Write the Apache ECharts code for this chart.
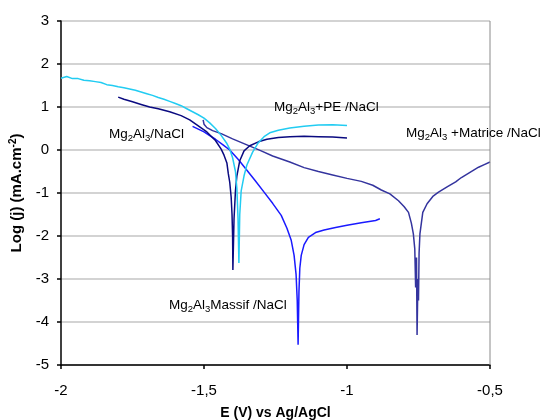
<!DOCTYPE html>
<html>
<head>
<meta charset="utf-8">
<script src="https://cdn.jsdelivr.net/npm/echarts@6/dist/echarts.min.js"></script>
<style>
  html, body { margin: 0; padding: 0; background: #fff; }
  #chart { width: 544px; height: 420px; }
</style>
</head>
<body>
<div id="chart"></div>
<script>
// Polarisation curves: [E (V), log j]
const curvePE = [
  [-2.0, 1.67], [-1.98, 1.71], [-1.96, 1.66], [-1.94, 1.66], [-1.92, 1.62], [-1.9, 1.61],
  [-1.88, 1.59], [-1.86, 1.57], [-1.84, 1.52], [-1.82, 1.50], [-1.8, 1.47], [-1.78, 1.45],
  [-1.76, 1.42], [-1.74, 1.39], [-1.72, 1.35], [-1.7, 1.31], [-1.68, 1.27], [-1.66, 1.22],
  [-1.64, 1.18], [-1.62, 1.13], [-1.6, 1.08], [-1.58, 1.03], [-1.56, 0.96], [-1.54, 0.89],
  [-1.52, 0.82], [-1.5, 0.74], [-1.48, 0.63], [-1.46, 0.50], [-1.44, 0.34], [-1.42, 0.15],
  [-1.41, 0.02], [-1.4, -0.18], [-1.39, -0.5], [-1.385, -0.9], [-1.381, -1.6], [-1.378, -2.63],
  [-1.375, -1.5], [-1.37, -0.95], [-1.36, -0.6], [-1.35, -0.35], [-1.33, -0.05], [-1.31, 0.17],
  [-1.29, 0.31], [-1.27, 0.40], [-1.24, 0.46], [-1.2, 0.51], [-1.15, 0.55], [-1.1, 0.58],
  [-1.05, 0.59], [-1.0, 0.57]
];
const curveNaCl = [
  [-1.8, 1.23], [-1.78, 1.18], [-1.75, 1.12], [-1.72, 1.06], [-1.69, 1.0], [-1.66, 0.96],
  [-1.62, 0.89], [-1.58, 0.80], [-1.55, 0.70], [-1.52, 0.56], [-1.49, 0.42], [-1.46, 0.22],
  [-1.44, 0.02], [-1.43, -0.12], [-1.42, -0.3], [-1.415, -0.55], [-1.41, -0.75], [-1.405, -1.1],
  [-1.402, -1.5], [-1.4, -2.0], [-1.399, -2.79], [-1.395, -1.6], [-1.39, -0.95], [-1.385, -0.6],
  [-1.375, -0.25], [-1.36, -0.02], [-1.34, 0.10], [-1.31, 0.19], [-1.28, 0.25], [-1.24, 0.29],
  [-1.2, 0.31], [-1.15, 0.32], [-1.1, 0.31], [-1.05, 0.30], [-1.0, 0.28]
];
const curveMassif = [
  [-1.54, 0.55], [-1.5, 0.42], [-1.46, 0.25], [-1.43, 0.1], [-1.41, 0.0], [-1.38, -0.22],
  [-1.35, -0.47], [-1.32, -0.72], [-1.29, -0.98], [-1.26, -1.24], [-1.23, -1.52], [-1.21, -1.82],
  [-1.195, -2.1], [-1.185, -2.45], [-1.178, -2.9], [-1.174, -3.5], [-1.171, -4.53], [-1.168, -3.3],
  [-1.165, -2.75], [-1.16, -2.45], [-1.15, -2.2], [-1.135, -2.03], [-1.11, -1.92], [-1.08, -1.86],
  [-1.04, -1.8], [-1.0, -1.75], [-0.95, -1.69], [-0.9, -1.64], [-0.885, -1.6]
];
const curveMatrice = [
  [-1.503, 0.70], [-1.5, 0.60], [-1.49, 0.52], [-1.47, 0.45], [-1.44, 0.38], [-1.4, 0.26],
  [-1.35, 0.12], [-1.3, -0.02], [-1.26, -0.14], [-1.2, -0.28], [-1.15, -0.41], [-1.1, -0.50],
  [-1.05, -0.58], [-1.0, -0.66], [-0.95, -0.73], [-0.91, -0.82], [-0.88, -0.93], [-0.85, -1.02],
  [-0.82, -1.18], [-0.8, -1.32], [-0.785, -1.45], [-0.775, -1.7], [-0.768, -1.95], [-0.763, -2.3],
  [-0.76, -3.2], [-0.757, -2.5], [-0.755, -4.3], [-0.752, -3.0], [-0.75, -3.5], [-0.748, -2.4],
  [-0.745, -1.95], [-0.74, -1.7], [-0.735, -1.45], [-0.72, -1.25], [-0.7, -1.08], [-0.68, -0.98],
  [-0.65, -0.86], [-0.62, -0.74], [-0.6, -0.64], [-0.57, -0.52], [-0.54, -0.40], [-0.52, -0.34],
  [-0.5, -0.28]
];

const FONT = 'Liberation Sans, Arial, sans-serif';

const chart = echarts.init(document.getElementById('chart'));

const rich = {
  n: { fontSize: 13.5, fontFamily: FONT, color: '#000', lineHeight: 18, verticalAlign: 'middle' },
  s: { fontSize: 9.5, fontFamily: FONT, color: '#000', lineHeight: 18, verticalAlign: 'bottom' }
};

function label(text, x, y) {
  return {
    type: 'text', left: x, top: y, z: 100,
    style: { text: text, rich: rich, fill: '#000', font: '13.5px ' + FONT }
  };
}

const options = {
  animation: false,
  grid: { left: 61, right: 54, top: 21, bottom: 55, containLabel: false, outerBoundsMode: 'none' },
  xAxis: {
    type: 'value',
    min: -2, max: -0.5, interval: 0.5,
    name: 'E (V) vs Ag/AgCl',
    nameLocation: 'middle',
    nameGap: 41,
    nameTextStyle: { fontFamily: FONT, fontSize: 14, fontWeight: 'bold', color: '#000' },
    axisLine: { onZero: false, lineStyle: { color: '#000', width: 1.5 } },
    axisTick: { show: true, length: 4, lineStyle: { color: '#000', width: 1.5 } },
    axisLabel: {
      margin: 18, fontFamily: FONT, fontSize: 15, color: '#000',
      formatter: (v) => String(v).replace('.', ',')
    },
    splitLine: { show: false }
  },
  yAxis: {
    type: 'value',
    min: -5, max: 3, interval: 1,
    name: '{b|Log (j) (mA.cm}{sup|-2}{b|)}',
    nameLocation: 'middle',
    nameGap: 31,
    nameTextStyle: {
      rich: {
        b: { fontFamily: FONT, fontSize: 15, fontWeight: 'bold', color: '#000', lineHeight: 18, verticalAlign: 'middle' },
        sup: { fontFamily: FONT, fontSize: 10, fontWeight: 'bold', color: '#000', lineHeight: 18, verticalAlign: 'top' }
      }
    },
    axisLine: { onZero: false, lineStyle: { color: '#000', width: 1.5 } },
    axisTick: { show: true, length: 4, lineStyle: { color: '#000', width: 1.5 } },
    axisLabel: { margin: 12, fontFamily: FONT, fontSize: 15, color: '#000' },
    splitLine: { show: true, lineStyle: { color: '#c4c4c4', width: 1.5 } }
  },
  graphic: [
    // right border of the plot area
    { type: 'line', z: 5, shape: { x1: 490, y1: 21, x2: 490, y2: 365 }, style: { stroke: '#8a8a8a', lineWidth: 1 } },
    label('{n|Mg}{s|2}{n|Al}{s|3}{n|/NaCl}', 109, 127),
    label('{n|Mg}{s|2}{n|Al}{s|3}{n|+PE /NaCl}', 274, 100),
    label('{n|Mg}{s|2}{n|Al}{s|3}{n| +Matrice /NaCl}', 406, 126),
    label('{n|Mg}{s|2}{n|Al}{s|3}{n|Massif /NaCl}', 169, 298)
  ],
  series: [
    { name: 'Matrice', type: 'line', data: curveMatrice, showSymbol: false, lineStyle: { color: '#34349e', width: 1.5 } },
    { name: 'Massif', type: 'line', data: curveMassif, showSymbol: false, lineStyle: { color: '#1a1aff', width: 1.5 } },
    { name: 'NaCl', type: 'line', data: curveNaCl, showSymbol: false, lineStyle: { color: '#0a0a80', width: 1.5 } },
    { name: 'PE', type: 'line', data: curvePE, showSymbol: false, lineStyle: { color: '#22ccf2', width: 1.5 } }
  ]
};

chart.setOption(options);
</script>
</body>
</html>
